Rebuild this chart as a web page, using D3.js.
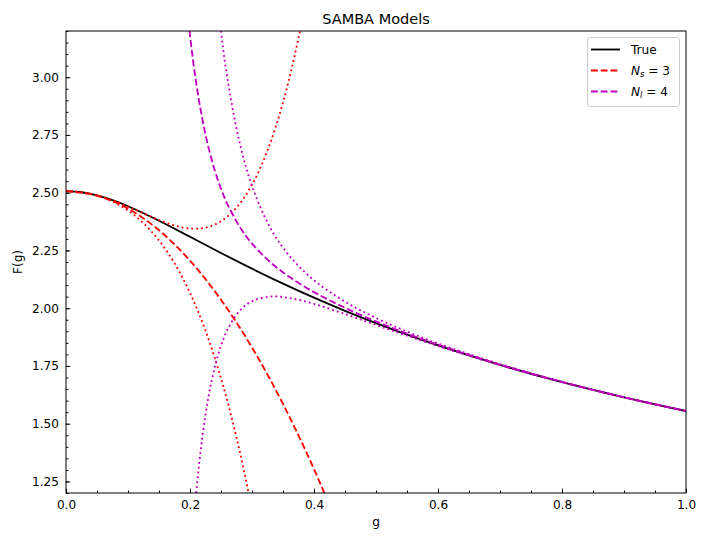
<!DOCTYPE html>
<html>
<head>
<meta charset="utf-8">
<script src="https://cdn.jsdelivr.net/npm/d3@7"></script>
<style>
  body { margin: 0; background: #fff; }
  text { font-family: "DejaVu Sans", sans-serif; }
</style>
</head>
<body>
<div id="wrapper"></div>
<script>
// true function F(g)
const gTrue = [0, 0.025, 0.05, 0.075, 0.1, 0.15, 0.2, 0.25, 0.3, 0.35, 0.4, 0.45, 0.5,
  0.55, 0.6, 0.65, 0.7, 0.75, 0.8, 0.85, 0.9, 0.95, 1.0]
const fTrue = [2.5066, 2.5020, 2.4886, 2.4679, 2.4413, 2.3786, 2.3092, 2.2390, 2.1711, 2.1064, 2.0455, 1.9886, 1.9353,
  1.8855, 1.8389, 1.7954, 1.7545, 1.7162, 1.6801, 1.6461, 1.6140, 1.5836, 1.5548]

// weak coupling, Ns = 3
const gWeak = [0, 0.05, 0.1, 0.15, 0.2, 0.25, 0.3, 0.35, 0.4, 0.45]
const fWeak = [2.5066, 2.4878, 2.4314, 2.3374, 2.2058, 2.0366, 1.8298, 1.5855, 1.3034, 0.9839]

// weak coupling band
const gWeakBand = [0, 0.025, 0.05, 0.075, 0.1, 0.125, 0.15, 0.175, 0.2, 0.225, 0.25, 0.275, 0.3,
  0.325, 0.35, 0.375, 0.4, 0.425]
const fWeakUp = [2.5066, 2.5020, 2.4884, 2.4671, 2.4401, 2.4104, 2.3815, 2.3579, 2.3450, 2.3489, 2.3765, 2.4355, 2.5345,
  2.6830, 2.8910, 3.1696, 3.5306, 3.9867]
const fWeakLo = [2.5066, 2.5019, 2.4873, 2.4616, 2.4227, 2.3679, 2.2934, 2.1947, 2.0666, 1.9030, 1.6968, 1.4404, 1.1251,
  0.7417, 0.2799, -0.2713, -0.9238, -1.6900]

// strong coupling, Nl = 4, and its band
const gStrong = [0.19, 0.2, 0.21, 0.22, 0.23, 0.24, 0.25, 0.26, 0.28, 0.3, 0.33, 0.36, 0.4, 0.45, 0.5,
  0.55, 0.6, 0.7, 0.8, 0.9, 1.0]
const fStrong = [3.4548, 3.1811, 2.9751, 2.8173, 2.6941, 2.5964, 2.5175, 2.4528, 2.3531, 2.2797, 2.1980, 2.1360, 2.0697, 2.0016, 1.9427,
  1.8900, 1.8418, 1.7558, 1.6807, 1.6143, 1.5550]
const fStrongUp = [6.5308, 5.5010, 4.7490, 4.1907, 3.7697, 3.4475, 3.1974, 3.0008, 2.7177, 2.5291, 2.3456, 2.2275, 2.1210, 2.0284, 1.9577,
  1.8989, 1.8473, 1.7582, 1.6819, 1.6149, 1.5553]
const fStrongLo = [0.3787, 0.8612, 1.2012, 1.4438, 1.6185, 1.7453, 1.8376, 1.9048, 1.9886, 2.0302, 2.0504, 2.0444, 2.0185, 1.9747, 1.9277,
  1.8811, 1.8363, 1.7534, 1.6796, 1.6137, 1.5547]

const xTicks = [0, 0.2, 0.4, 0.6, 0.8, 1.0]
const yTicks = [1.25, 1.5, 1.75, 2.0, 2.25, 2.5, 2.75, 3.0]

function drawChart() {

let dimensions = {
  width: 706,
  height: 541,
  margin: {
    top: 31,
    right: 20,
    bottom: 48,
    left: 66,
  },
}
dimensions.boundedWidth = dimensions.width
  - dimensions.margin.left
  - dimensions.margin.right
dimensions.boundedHeight = dimensions.height
  - dimensions.margin.top
  - dimensions.margin.bottom

const wrapper = d3.select("#wrapper")
  .append("svg")
    .attr("width", dimensions.width)
    .attr("height", dimensions.height)

wrapper.append("rect")
  .attr("width", dimensions.width)
  .attr("height", dimensions.height)
  .attr("fill", "#fff")

const bounds = wrapper.append("g")
  .attr("transform", `translate(${dimensions.margin.left},${dimensions.margin.top})`)

const xScale = d3.scaleLinear()
  .domain([0, 1])
  .range([0, dimensions.boundedWidth])
const yScale = d3.scaleLinear()
  .domain([1.2, 3.2])
  .range([dimensions.boundedHeight, 0])

bounds.append("defs").append("clipPath")
    .attr("id", "plot-clip")
  .append("rect")
    .attr("width", dimensions.boundedWidth)
    .attr("height", dimensions.boundedHeight)

const lineGen = d3.line()
  .x(d => xScale(d[0]))
  .y(d => yScale(d[1]))
  .curve(d3.curveCatmullRom.alpha(0.5))

const lw = 1.84
const dashed = `${3.7 * lw},${1.6 * lw}`
const dotted = `${1 * lw},${1.65 * lw}`

const lines = bounds.append("g").attr("clip-path", "url(#plot-clip)")

const series = [
  { xs: gTrue, ys: fTrue, color: "#000000", dash: null },
  { xs: gWeak, ys: fWeak, color: "#ff0000", dash: dashed },
  { xs: gWeakBand, ys: fWeakUp, color: "#ff0000", dash: dotted },
  { xs: gWeakBand, ys: fWeakLo, color: "#ff0000", dash: dotted },
  { xs: gStrong, ys: fStrong, color: "#bf00bf", dash: dashed },
  { xs: gStrong, ys: fStrongUp, color: "#bf00bf", dash: dotted },
  { xs: gStrong, ys: fStrongLo, color: "#bf00bf", dash: dotted },
]

series.forEach(s => {
  lines.append("path")
    .attr("d", lineGen(d3.zip(s.xs, s.ys)))
    .attr("fill", "none")
    .attr("stroke", s.color)
    .attr("stroke-width", lw)
    .attr("stroke-dasharray", s.dash)
})

// axes, ticks pointing inward
const xAxis = bounds.append("g")
  .attr("transform", `translate(0,${dimensions.boundedHeight})`)
  .call(d3.axisBottom(xScale).tickValues(xTicks).tickFormat(d3.format(".1f"))
    .tickSize(-4.3).tickSizeOuter(0).tickPadding(7))
bounds.append("g")
  .attr("transform", `translate(0,${dimensions.boundedHeight})`)
  .call(d3.axisBottom(xScale).tickValues(d3.range(0, 1.0001, 0.05)).tickFormat("")
    .tickSize(-2.45).tickSizeOuter(0))

const yAxis = bounds.append("g")
  .call(d3.axisLeft(yScale).tickValues(yTicks).tickFormat(d3.format(".2f"))
    .tickSize(-4.3).tickSizeOuter(0).tickPadding(7))
bounds.append("g")
  .call(d3.axisLeft(yScale).tickValues(d3.range(1.2, 3.2001, 0.05)).tickFormat("")
    .tickSize(-2.45).tickSizeOuter(0))

bounds.selectAll(".domain").remove()
bounds.selectAll(".tick line").attr("stroke", "#000").attr("stroke-width", 1)
xAxis.selectAll("text").style("font-size", "12.1px").attr("fill", "#000")
yAxis.selectAll("text").style("font-size", "12.1px").attr("fill", "#000")

// frame
bounds.append("rect")
  .attr("width", dimensions.boundedWidth)
  .attr("height", dimensions.boundedHeight)
  .attr("fill", "none")
  .attr("stroke", "#000")
  .attr("stroke-width", 1)

// labels
wrapper.append("text")
  .attr("x", dimensions.margin.left + dimensions.boundedWidth / 2)
  .attr("y", 23.5)
  .attr("text-anchor", "middle")
  .style("font-size", "14.5px")
  .text("SAMBA Models")

wrapper.append("text")
  .attr("x", dimensions.margin.left + dimensions.boundedWidth / 2)
  .attr("y", 526)
  .attr("text-anchor", "middle")
  .style("font-size", "12.1px")
  .text("g")

wrapper.append("text")
  .attr("transform", `translate(22,${dimensions.margin.top + dimensions.boundedHeight / 2}) rotate(-90)`)
  .attr("text-anchor", "middle")
  .style("font-size", "12.1px")
  .text("F(g)")

// legend
const legendGroup = wrapper.append("g")
legendGroup.append("rect")
  .attr("x", 587.5).attr("y", 37.5)
  .attr("width", 92).attr("height", 69)
  .attr("rx", 2.5)
  .attr("fill", "rgba(255,255,255,0.8)")
  .attr("stroke", "#cccccc")
  .attr("stroke-width", 1)

const legendItems = [
  { color: "#000000", dash: null, y: 49.5, label: "True" },
  { color: "#ff0000", dash: dashed, y: 70.5, label: ["N", "s", " = 3"] },
  { color: "#bf00bf", dash: dashed, y: 91.5, label: ["N", "l", " = 4"] },
]

legendItems.forEach(item => {
  legendGroup.append("line")
    .attr("x1", 591).attr("x2", 620)
    .attr("y1", item.y).attr("y2", item.y)
    .attr("stroke", item.color)
    .attr("stroke-width", lw)
    .attr("stroke-dasharray", item.dash)
  const t = legendGroup.append("text")
    .attr("x", 631).attr("y", item.y + 4.4)
    .style("font-size", "12.1px")
  if (typeof item.label === "string") {
    t.text(item.label)
  } else {
    t.append("tspan").style("font-style", "italic").text(item.label[0])
    t.append("tspan").style("font-style", "italic").style("font-size", "8.5px")
      .attr("dy", 2.5).text(item.label[1])
    t.append("tspan").attr("dy", -2.5).text(item.label[2])
  }
})

}
drawChart()
</script>
</body>
</html>
